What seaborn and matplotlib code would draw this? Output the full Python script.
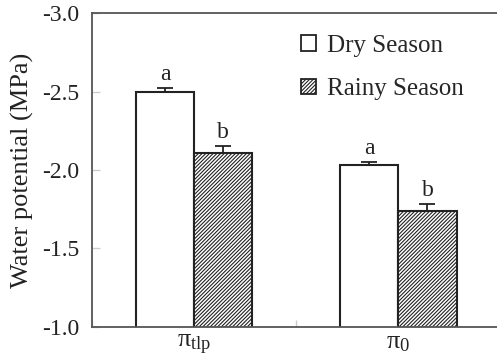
import matplotlib
matplotlib.use("Agg")
import matplotlib.pyplot as plt
from matplotlib.patches import Patch
from matplotlib.ticker import FixedLocator
import pandas as pd
import seaborn as sns

# Osmotic parameters and season means (MPa)
params = [r"$\pi_{\mathrm{tlp}}$", r"$\pi_{0}$"]
seasons = ["Dry Season", "Rainy Season"]
dry_values = [-2.50, -2.03]
rainy_values = [-2.11, -1.74]
dry_err = [0.02, 0.02]
rainy_err = [0.04, 0.04]
dry_letters = ["a", "a"]
rainy_letters = ["b", "b"]
y_ticks = [-3.0, -2.5, -2.0, -1.5, -1.0]

sns.set_style("white")
plt.rcParams["font.family"] = ["Liberation Serif", "DejaVu Serif"]
plt.rcParams["mathtext.fontset"] = "custom"
plt.rcParams["mathtext.rm"] = "Liberation Serif"
plt.rcParams["mathtext.it"] = "Liberation Serif"
plt.rcParams["hatch.linewidth"] = 0.8

HATCH = "/" * 9

df = pd.DataFrame({
    "param": params * 2,
    "season": [seasons[0]] * 2 + [seasons[1]] * 2,
    "value": dry_values + rainy_values,
})

fig = plt.figure(figsize=(4.97, 3.53), dpi=100)
ax = fig.add_axes([0.185, 0.074, 0.822, 0.889])

sns.barplot(
    data=df, x="param", y="value", hue="season", hue_order=seasons,
    palette=["white", "white"], edgecolor="#222222", linewidth=1.5,
    width=0.57, errorbar=None, legend=False, ax=ax, zorder=2,
)

errs = [dry_err, rainy_err]
letters = [dry_letters, rainy_letters]
bar_groups = list(ax.containers)
for i, container in enumerate(bar_groups):
    xs = [b.get_x() + b.get_width() / 2 for b in container]
    vals = [b.get_height() for b in container]
    if i == 1:
        for b in container:
            b.set_hatch(HATCH)
    ax.errorbar(xs, vals, yerr=[errs[i], [0] * len(vals)], fmt="none",
                ecolor="#222222", elinewidth=1.3, capsize=6, capthick=1.3,
                zorder=3)
    for x, v, e, t in zip(xs, vals, errs[i], letters[i]):
        ax.annotate(t, (x, v - e), xytext=(0, 6), textcoords="offset points",
                    ha="center", va="baseline", fontsize=17, color="#222222")

ax.set_ylim(-1.0, -3.0)
ax.set_xlim(-0.5, 1.5)
ax.yaxis.set_major_locator(FixedLocator(y_ticks))
ax.set_yticklabels([f"{t:.1f}" for t in y_ticks])
ax.set_ylabel("Water potential (MPa)", fontsize=19, color="#222222", labelpad=6)
ax.set_xlabel("")

ax.tick_params(axis="y", direction="in", length=6, color="#cccccc", width=1,
               labelsize=17, labelcolor="#222222", pad=9, left=True)
ax.tick_params(axis="x", which="major", length=0, labelsize=19,
               labelcolor="#222222", pad=4)
ax.xaxis.set_minor_locator(FixedLocator([-0.5, 0.5, 1.5]))
ax.tick_params(axis="x", which="minor", direction="in", length=5,
               color="#cccccc", width=1, bottom=True)

for side in ["left", "top", "bottom"]:
    ax.spines[side].set_color("#555555")
    ax.spines[side].set_linewidth(1.3)
ax.spines["right"].set_visible(False)

handles = [
    Patch(facecolor="white", edgecolor="#222222", linewidth=1.3),
    Patch(facecolor="white", edgecolor="#222222", linewidth=1.3, hatch=HATCH),
]
ax.legend(handles, seasons, loc="upper left",
          bbox_to_anchor=(301 / 497, 1 - 35 / 353),
          bbox_transform=fig.transFigure, frameon=False, fontsize=18,
          handlelength=0.6, handleheight=0.6, handletextpad=0.45,
          labelspacing=0.85, borderpad=0, borderaxespad=0)

fig.savefig("out.png", dpi=100)
